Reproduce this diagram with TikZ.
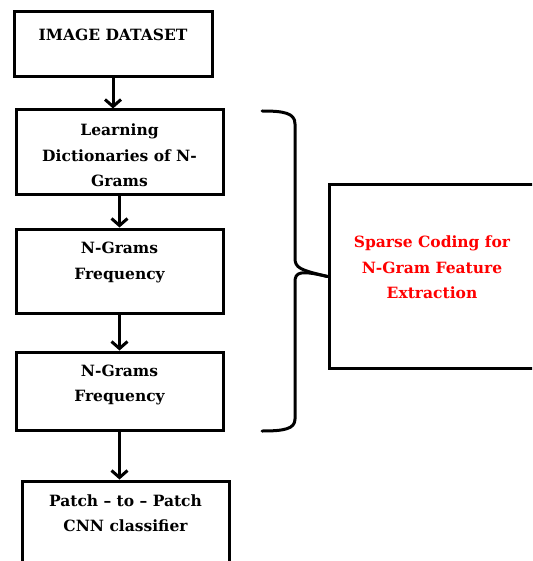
\documentclass[tikz,border=0pt]{standalone}
\usepackage{fontspec}
\setmainfont{DejaVu Serif}
\usetikzlibrary{arrows.meta}
\begin{document}
\begin{tikzpicture}[x=1pt,y=-1pt,
  box/.style={draw, line width=3pt, rectangle, inner sep=0pt},
  lbl/.style={font=\fontsize{15.5}{25.5}\selectfont\bfseries, align=center, text=black, inner sep=0pt},
  redlbl/.style={font=\fontsize{15.5}{25.5}\selectfont\bfseries, align=center, text=red, inner sep=0pt},
  arr/.style={line width=3pt, -{Straight Barb[length=7pt,width=16pt,line width=3pt]}},
  brace/.style={line width=3pt, line cap=round, line join=round}]
\useasboundingbox (0,0) rectangle (532,561);
\clip (0,0) rectangle (532,561);
% boxes
\node[box, minimum width=198pt, minimum height=65pt] (b1) at (113,44.5) {};
\node[box, minimum width=207pt, minimum height=85pt] (b2) at (119.5,152.5) {};
\node[box, minimum width=207pt, minimum height=84pt] (b3) at (119.5,271) {};
\node[box, minimum width=207pt, minimum height=78pt] (b4) at (119.5,391) {};
\node[box, minimum width=207pt, minimum height=120pt] (b5) at (125.5,541) {};
\node[box, minimum width=220pt, minimum height=183pt] (sc) at (439,276.5) {};
% labels
\node[lbl] (t1) at (113,35) {IMAGE DATASET};
\node[lbl] (t2) at (119.5,155.5) {Learning\\Dictionaries of N-\\Grams};
\node[lbl] (t3) at (119.5,262.5) {N-Grams\\Frequency};
\node[lbl] (t4) at (119.5,385) {N-Grams\\Frequency};
\node[lbl] (t5) at (125.5,513) {Patch -- to -- Patch\\CNN classifier};
\node[redlbl] (t6) at (432,267.5) {Sparse Coding for\\N-Gram Feature\\Extraction};
% arrows
\draw[arr] (b1.south) -- (b1.south |- b2.north);
\draw[arr] (b2.south) -- (b3.north);
\draw[arr] (b3.south) -- (b4.north);
\draw[arr] (b4.south) -- (b4.south |- b5.north);
% brace
\coordinate (btop) at (262,111);
\coordinate (bbot) at (262,431);
\coordinate (btip) at (sc.west);
\draw[brace] (btop) .. controls (284,111) and (295,113) .. (295,124)
  -- (295,258) .. controls (295,268) and (300,270) .. (btip);
\draw[brace] (btip) .. controls (300,270) and (295,272) .. (295,282)
  -- (295,419) .. controls (295,429) and (284,431) .. (bbot);
\end{tikzpicture}
\end{document}
